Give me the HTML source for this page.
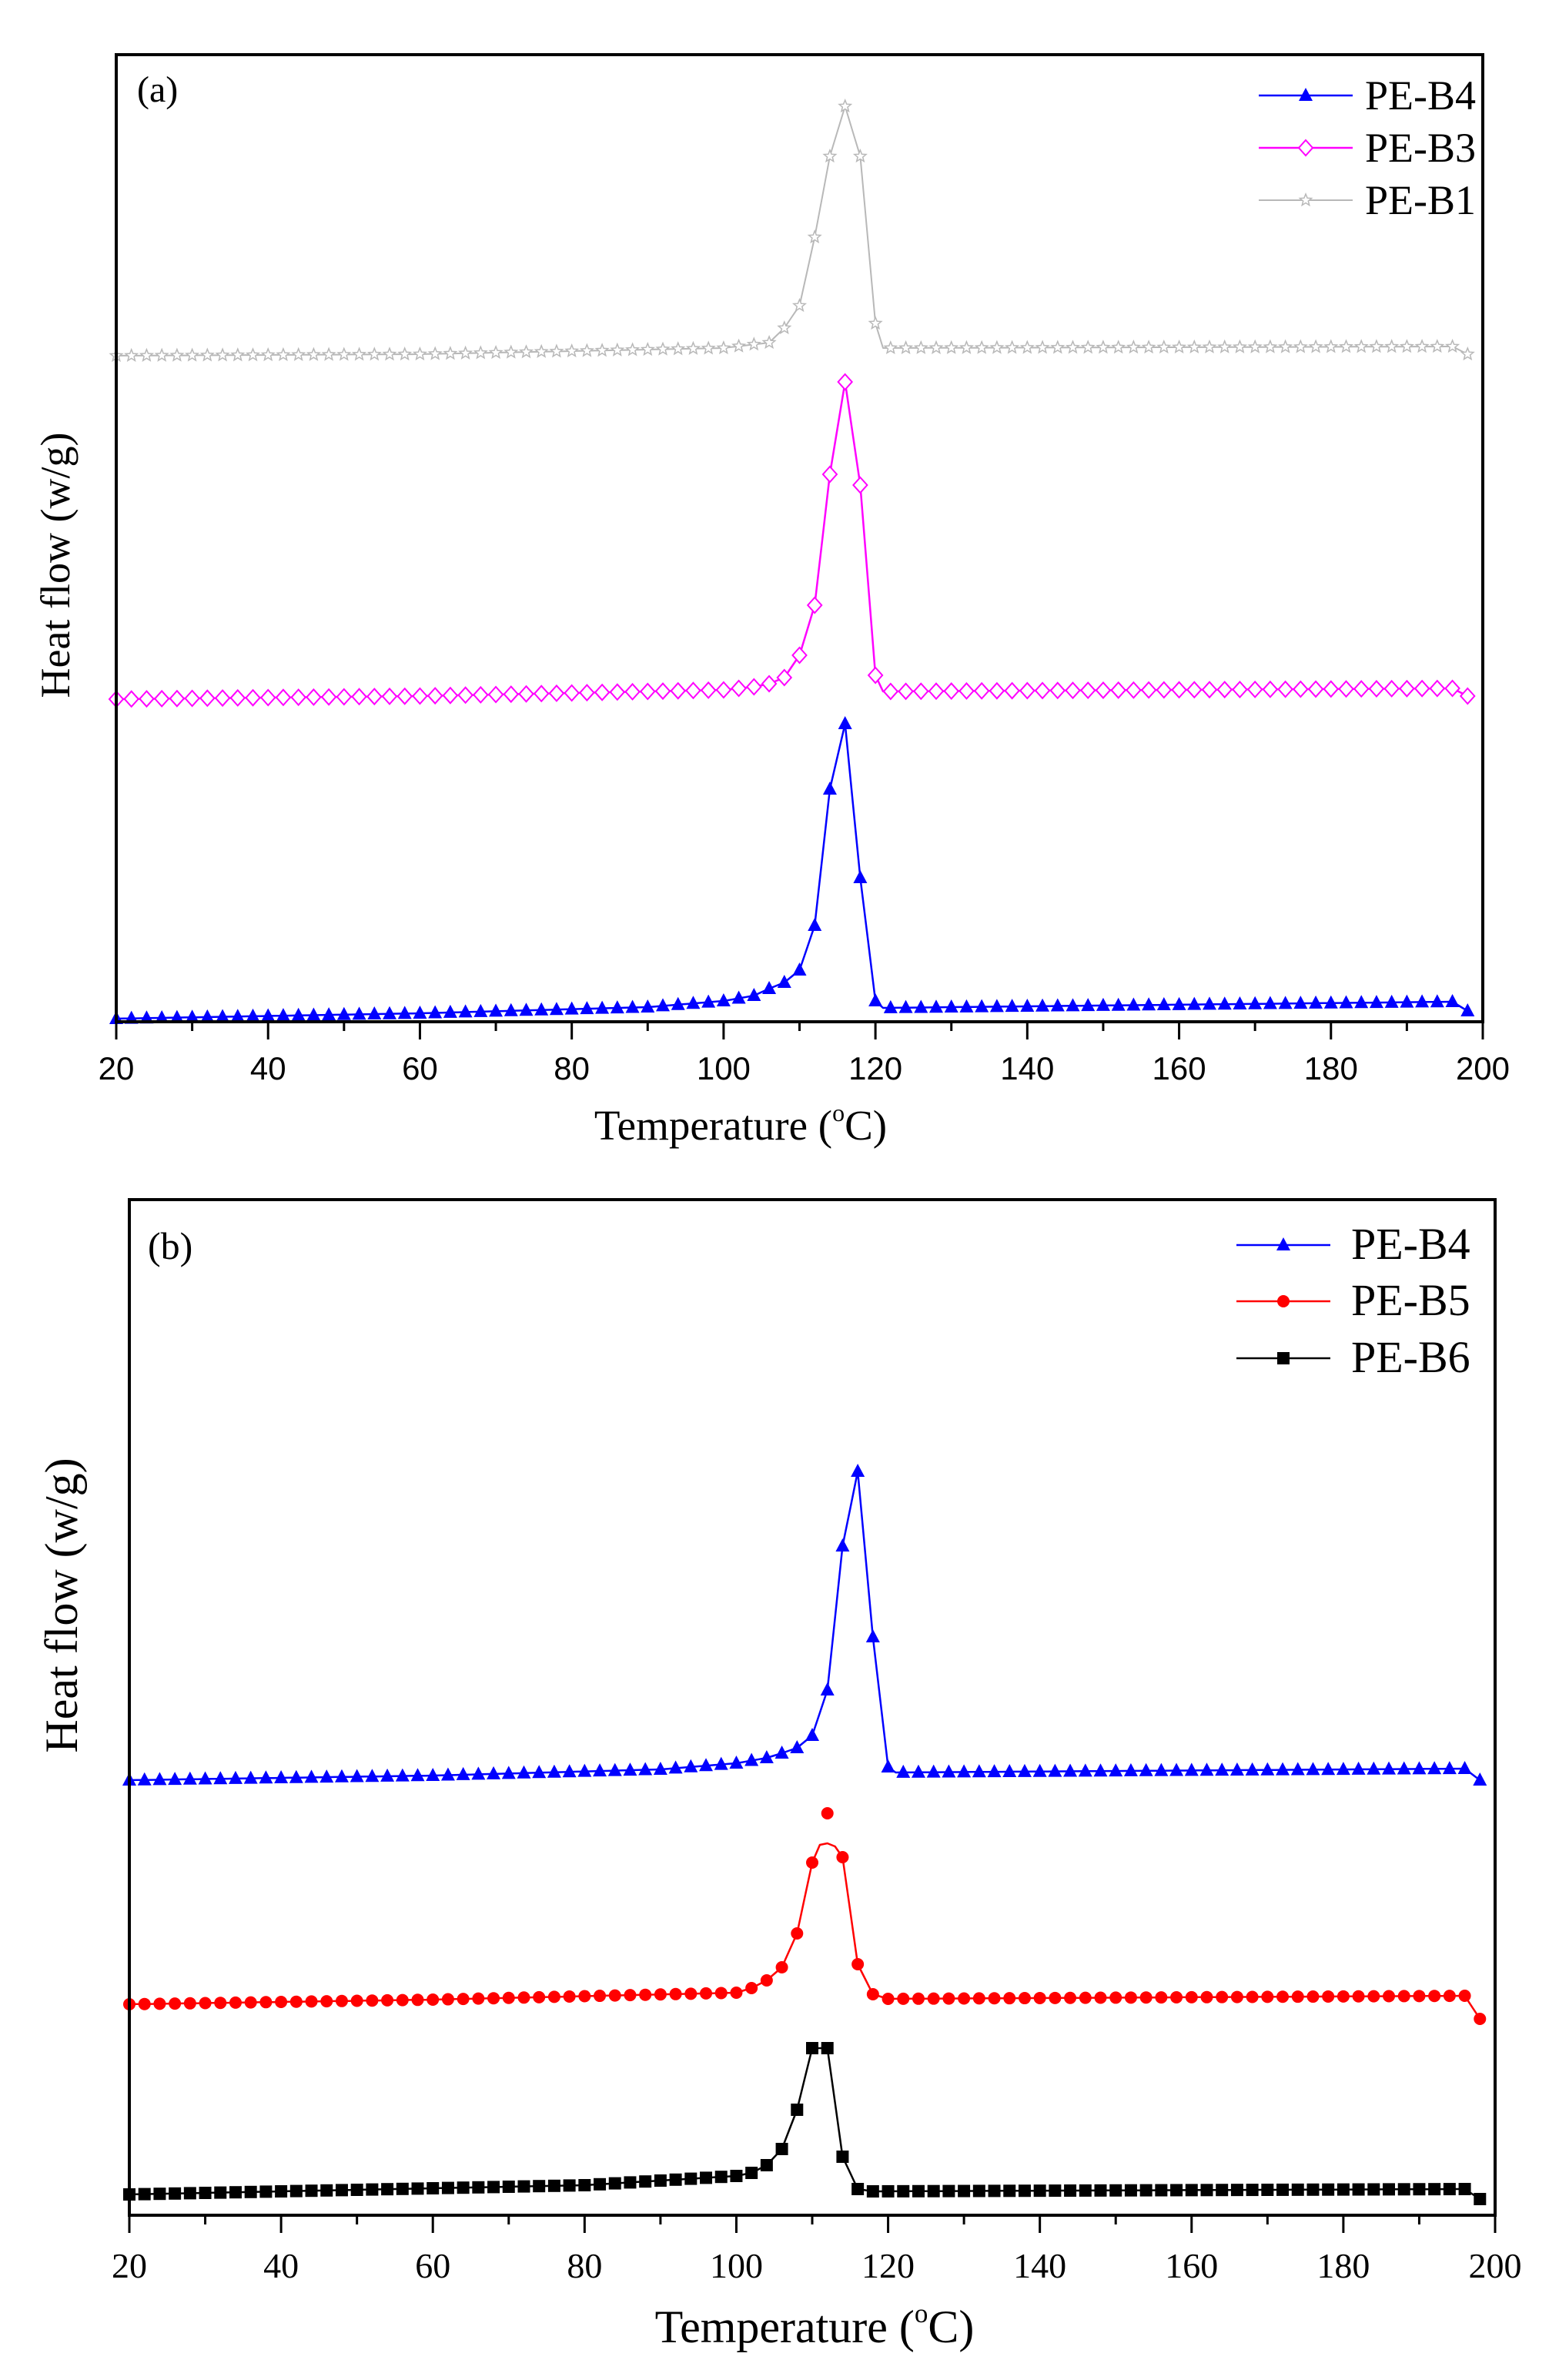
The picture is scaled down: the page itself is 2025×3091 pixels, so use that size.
<!DOCTYPE html>
<html><head><meta charset="utf-8">
<style>
html,body{margin:0;padding:0;background:#fff;}
svg{display:block;}
.ser{font-family:"Liberation Serif",serif;}
.san{font-family:"Liberation Sans",sans-serif;}
</style></head>
<body>
<svg id="s" width="2025" height="3091" viewBox="0 0 2025 3091" xmlns="http://www.w3.org/2000/svg">
<rect width="2025" height="3091" fill="#fff"/>
<g id="g"></g>
<text class="ser" x="178" y="132" font-size="48">(a)</text>
<text class="ser" x="192" y="1635" font-size="50">(b)</text>
<text class="ser" transform="translate(90,734) rotate(-90)" text-anchor="middle" font-size="54">Heat flow (w/g)</text>
<text class="ser" transform="translate(100,2085) rotate(-90)" text-anchor="middle" font-size="60">Heat flow (w/g)</text>
<text class="ser" x="962" y="1480" text-anchor="middle" font-size="55">Temperature (<tspan font-size="32" dy="-24">o</tspan><tspan dy="24">C)</tspan></text>
<text class="ser" x="1058" y="3042" text-anchor="middle" font-size="60">Temperature (<tspan font-size="35" dy="-26">o</tspan><tspan dy="26">C)</tspan></text>
</svg>
<script>
var g=document.getElementById('g');var out='';
function interp(k,T){for(var i=0;i<k.length-1;i++){if(T>=k[i][0]&&T<=k[i+1][0]){var a=k[i],b=k[i+1];return a[1]+(b[1]-a[1])*(T-a[0])/(b[0]-a[0]);}}return k[k.length-1][1];}
function marker(type,x,y,c){
 if(type=='tri')return '<polygon points="'+x+','+(y-10)+' '+(x-9)+','+(y+7)+' '+(x+9)+','+(y+7)+'" fill="'+c+'"/>';
 if(type=='dia')return '<polygon points="'+x+','+(y-10)+' '+(x+9)+','+y+' '+x+','+(y+10)+' '+(x-9)+','+y+'" fill="#fff" stroke="'+c+'" stroke-width="2"/>';
 if(type=='star'){var p=[];for(var i=0;i<10;i++){var r=i%2?3.5:8,a=-Math.PI/2+i*Math.PI/5;p.push((x+r*Math.cos(a)).toFixed(1)+','+(y+r*Math.sin(a)).toFixed(1));}return '<polygon points="'+p.join(' ')+'" fill="#fff" stroke="'+c+'" stroke-width="1.5"/>';}
 if(type=='cir')return '<circle cx="'+x+'" cy="'+y+'" r="8" fill="'+c+'"/>';
 if(type=='sq')return '<rect x="'+(x-8)+'" y="'+(y-8)+'" width="16" height="16" fill="'+c+'"/>';
}
function series(x0,x1,k,type,c,lw,ovr){
 var pts=[],mk='';
 for(var T=20;T<=198;T+=1){var x=x0+(T-20)*(x1-x0)/180,y=interp(k,T);pts.push(x.toFixed(1)+','+y.toFixed(1));if(T%2==0){var my=(ovr&&ovr[T]!==undefined)?ovr[T]:y;mk+=marker(type,x,my,c);}}
 out+='<polyline points="'+pts.join(' ')+'" fill="none" stroke="'+c+'" stroke-width="'+lw+'" stroke-linejoin="round"/>'+mk;
}
function axes(x0,x1,y0,y1,serif,fs,ly){
 out+='<rect x="'+x0+'" y="'+y0+'" width="'+(x1-x0)+'" height="'+(y1-y0)+'" fill="none" stroke="#000" stroke-width="4"/>';
 for(var T=20;T<=200;T+=10){var x=x0+(T-20)*(x1-x0)/180;var L=(T%20==0)?23:12;out+='<line x1="'+x+'" y1="'+y1+'" x2="'+x+'" y2="'+(y1+L)+'" stroke="#000" stroke-width="3"/>';
  if(T%20==0)out+='<text class="'+(serif?'ser':'san')+'" x="'+x+'" y="'+ly+'" text-anchor="middle" font-size="'+fs+'">'+T+'</text>';}
}
function legend(x0,x1,tx,ys,items,fs){
 items.forEach(function(it,i){var y=ys[i];out+='<line x1="'+x0+'" y1="'+y+'" x2="'+x1+'" y2="'+y+'" stroke="'+it[1]+'" stroke-width="'+it[3]+'"/>'+marker(it[2],(x0+x1)/2,y,it[1])+'<text class="ser" x="'+tx+'" y="'+(y+18)+'" font-size="'+fs+'">'+it[0]+'</text>';});
}
// panel a
var ax0=151,ax1=1926;
series(ax0,ax1,[[20,462],[60,460],[100,452],[106,445],[108,426],[110,397],[112,308],[114,203],[116,138],[118,203],[120,420],[121,452],[196,450],[198,460]],'star','#b8b8b8',2);
series(ax0,ax1,[[20,908],[60,904],[100,896],[104,892],[106,888],[108,880],[110,851],[112,786],[114,616],[116,496],[118,630],[120,877],[121,898],[196,894],[198,904]],'dia','#ff00ff',2.5);
series(ax0,ax1,[[20,1323],[60,1316],[90,1308],[100,1300],[104,1293],[106,1284],[108,1276],[110,1260],[112,1202],[114,1025],[116,940],[118,1140],[120,1300],[121,1309],[196,1301],[198,1313]],'tri','#0000ff',2.5);
axes(ax0,ax1,71,1327,false,42,1402);
legend(1635,1757,1773,[124,192,260],[['PE-B4','#0000ff','tri',2.5],['PE-B3','#ff00ff','dia',2.5],['PE-B1','#b8b8b8','star',2]],54);
// panel b
var bx0=168,bx1=1942;
series(bx0,bx1,[[20,2312],[60,2306],[90,2298],[100,2290],[104,2283],[106,2277],[108,2270],[110,2254],[112,2195],[114,2008],[116,1911],[118,2126],[120,2295],[121,2302],[196,2297],[198,2312]],'tri','#0000ff',2.5);
series(bx0,bx1,[[20,2603],[60,2597],[100,2588],[102,2582],[104,2572],[106,2555],[108,2511],[110,2419],[111,2396],[112,2394],[113,2398],[114,2412],[116,2551],[118,2590],[120,2596],[196,2592],[198,2622]],'cir','#ff0000',2.5,{112:2355});
series(bx0,bx1,[[20,2850],[60,2842],[80,2838],[100,2826],[102,2822],[104,2812],[106,2791],[108,2740],[110,2660],[112,2660],[114,2801],[116,2843],[118,2846],[196,2843],[198,2856]],'sq','#000',2.5);
axes(bx0,bx1,1558,2877,true,46,2958);
legend(1606,1728,1755,[1617,1690,1764],[['PE-B4','#0000ff','tri',2.5],['PE-B5','#ff0000','cir',2.5],['PE-B6','#000','sq',2.5]],58);
g.innerHTML=out;
</script>
</body></html>
